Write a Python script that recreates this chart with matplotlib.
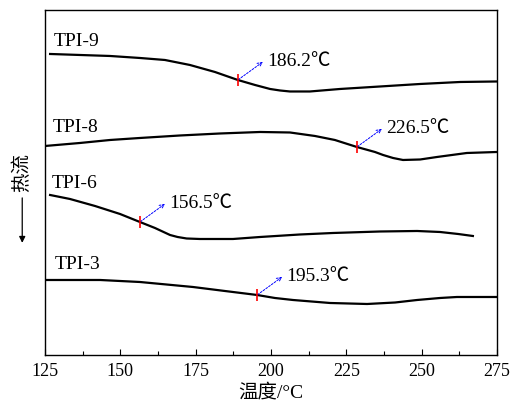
import numpy as np
import matplotlib
matplotlib.use('Agg')
import matplotlib.pyplot as plt

plt.rcParams['font.family'] = ['Liberation Serif', 'Noto Sans CJK SC', 'DejaVu Sans']
plt.rcParams['mathtext.fontset'] = 'stix'

# DSC 曲线数据 (温度 / ℃ , 热流 任意单位)
t9 = [126.7, 136.6, 146.6, 156.5, 164.8, 173.1, 181.4, 189.0, 194.7, 199.7,
      203.0, 206.3, 212.9, 222.9, 236.2, 249.5, 262.8, 275.0]
h9 = [3.01, 3.00, 2.99, 2.97, 2.95, 2.90, 2.83, 2.75, 2.70, 2.66,
      2.645, 2.635, 2.635, 2.66, 2.685, 2.71, 2.73, 2.735]

t8 = [125.0, 136.6, 146.6, 156.5, 169.8, 183.1, 196.4, 206.3, 214.6, 221.2,
      228.5, 234.5, 237.2, 240.5, 243.8, 249.5, 255.1, 265.0, 275.0]
h8 = [2.09, 2.12, 2.15, 2.17, 2.195, 2.215, 2.23, 2.225, 2.19, 2.15,
      2.08, 2.03, 2.00, 1.97, 1.95, 1.955, 1.98, 2.02, 2.03]

t6 = [126.7, 133.3, 141.6, 149.9, 156.5, 161.5, 166.5, 169.0, 172.0, 176.4,
      187.4, 196.4, 209.6, 220.6, 236.2, 248.5, 256.1, 262.1, 267.0]
h6 = [1.60, 1.56, 1.49, 1.41, 1.33, 1.27, 1.20, 1.18, 1.165, 1.16,
      1.16, 1.18, 1.205, 1.22, 1.235, 1.24, 1.23, 1.21, 1.19]

t3 = [125.0, 143.3, 156.5, 174.1, 184.7, 195.4, 201.3, 207.3, 219.6, 231.9,
      241.2, 248.5, 256.1, 261.7, 275.0]
h3 = [0.75, 0.75, 0.73, 0.68, 0.64, 0.60, 0.57, 0.55, 0.52, 0.51,
      0.525, 0.55, 0.57, 0.58, 0.58]

names = ['TPI-9', 'TPI-8', 'TPI-6', 'TPI-3']
tg_pos = [189.0, 228.5, 156.5, 195.4]          # 红色标记位置
tg_text = ['186.2℃', '226.5℃', '156.5℃', '195.3℃']

curves = [(t9, h9), (t8, h8), (t6, h6), (t3, h3)]
name_xy = [(128.0, 3.13), (127.7, 2.27), (127.3, 1.71), (128.3, 0.90)]

fig = plt.figure(figsize=(5.17, 4.04), dpi=100)
ax = fig.add_axes([0.087, 0.1213, 0.8743, 0.854])

for (t, h), nm, (nx, ny), tg, lab in zip(curves, names, name_xy, tg_pos, tg_text):
    ax.plot(t, h, color='black', lw=1.6, solid_joinstyle='round')
    ax.text(nx, ny, nm, fontsize=14, ha='left', va='center')
    my = np.interp(tg, t, h)
    ax.plot([tg], [my], marker='|', color='red', markersize=9, mew=1.2)
    ax.annotate('', xy=(tg, my), xytext=(18, 13), textcoords='offset points',
                arrowprops=dict(arrowstyle='<-', color='blue', lw=0.7,
                                linestyle=(0, (2, 1.5)), mutation_scale=8,
                                shrinkA=0, shrinkB=1))
    ax.annotate(lab, xy=(tg, my), xytext=(21, 13), textcoords='offset points',
                fontsize=14, ha='left', va='center')

ax.set_xlim(125, 275)
ax.set_ylim(0, 3.45)
ax.set_xticks(np.arange(125, 276, 25))
ax.set_xticks(np.arange(137.5, 275, 25), minor=True)
ax.tick_params(axis='x', which='major', direction='in', length=4, width=0.8,
               labelsize=13, pad=6)
ax.tick_params(axis='x', which='minor', direction='in', length=3, width=0.8)
ax.set_yticks([])
for s in ax.spines.values():
    s.set_linewidth(1.0)

ax.set_xlabel('温度/°C', fontsize=14, labelpad=2)

fig.text(0.043, 0.574, '热流', rotation=90, fontsize=14, ha='center', va='center')
fig.add_artist(matplotlib.patches.FancyArrowPatch(
    (0.043, 0.517), (0.043, 0.392), transform=fig.transFigure,
    arrowstyle='-|>', mutation_scale=9, color='black', lw=0.9))

fig.savefig('out.png', dpi=100)
